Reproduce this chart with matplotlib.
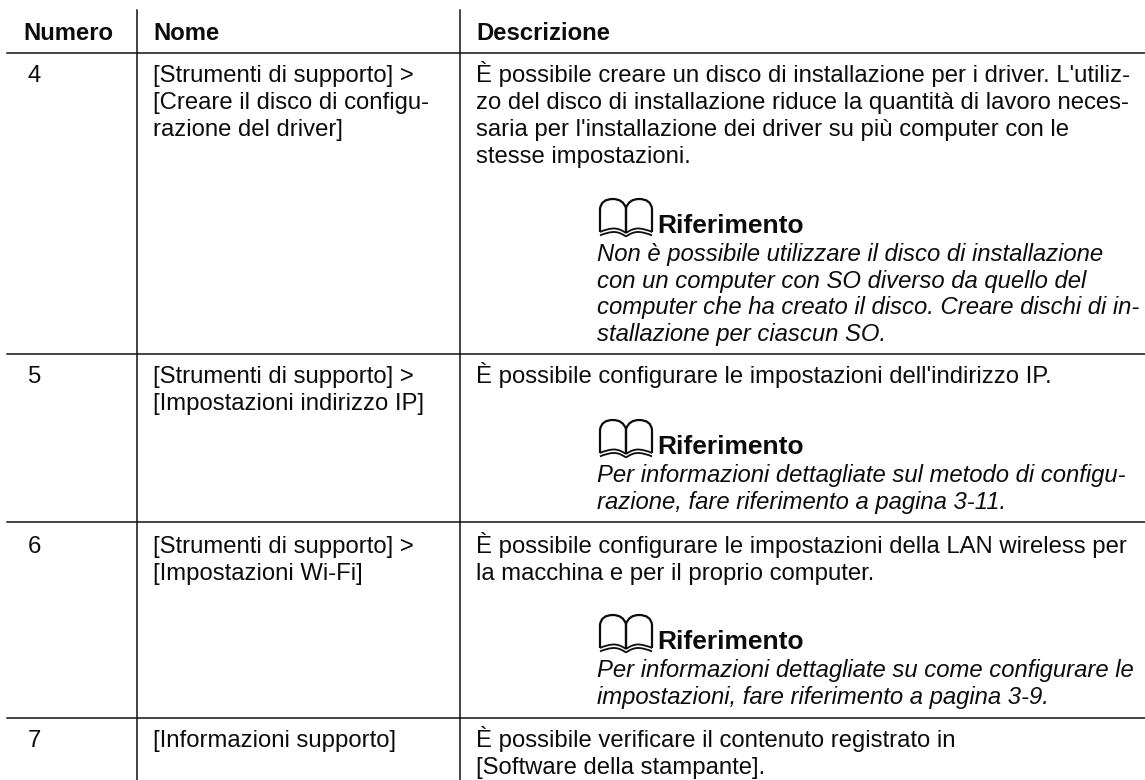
import matplotlib
matplotlib.use('Agg')
import matplotlib.pyplot as plt
from matplotlib.path import Path
from matplotlib.patches import PathPatch

plt.rcParams['font.family'] = ['Liberation Sans', 'DejaVu Sans']

headers = ['Numero', 'Nome', 'Descrizione']
numbers = ['4', '5', '6', '7']
names = [
    ['[Strumenti di supporto] >', '[Creare il disco di configu-', 'razione del driver]'],
    ['[Strumenti di supporto] >', '[Impostazioni indirizzo IP]'],
    ['[Strumenti di supporto] >', '[Impostazioni Wi-Fi]'],
    ['[Informazioni supporto]'],
]
descriptions = [
    ["È possibile creare un disco di installazione per i driver. L'utiliz-",
     'zo del disco di installazione riduce la quantità di lavoro neces-',
     "saria per l'installazione dei driver su più computer con le",
     'stesse impostazioni.'],
    ["È possibile configurare le impostazioni dell'indirizzo IP."],
    ['È possibile configurare le impostazioni della LAN wireless per',
     'la macchina e per il proprio computer.'],
    ['È possibile verificare il contenuto registrato in',
     '[Software della stampante].'],
]
note_title = 'Riferimento'
notes = [
    ['Non è possibile utilizzare il disco di installazione',
     'con un computer con SO diverso da quello del',
     'computer che ha creato il disco. Creare dischi di in-',
     'stallazione per ciascun SO.'],
    ['Per informazioni dettagliate sul metodo di configu-',
     'razione, fare riferimento a pagina 3-11.'],
    ['Per informazioni dettagliate su come configurare le',
     'impostazioni, fare riferimento a pagina 3-9.'],
    [],
]

# layout in pixels
row_tops = [53, 354, 522, 718]
note_base = [233, 454, 649]
desc_base = [82, 383, 553, 747]
line_h = 27
note_h = 26.7
fs = 17.2

fig = plt.figure(figsize=(11.45, 7.8), dpi=100)
ax = fig.add_axes([0, 0, 1, 1])
ax.set_xlim(0, 1145)
ax.set_ylim(780, 0)
ax.axis('off')


def put(x, y, s, size=fs, **kw):
    ax.text(x, y, s, fontsize=size, va='baseline', ha='left', color='#0c0c0c', **kw)


def book(x0, base):
    # icon spans 54 x 38 px, sits a little under the title baseline
    top = base - 34
    mid = x0 + 27
    for sx in (1, -1):
        page = [(mid, base), (mid, top + 9),
                (mid - sx * 3, top), (mid - sx * 13, top),
                (mid - sx * 25, top), (mid - sx * 26, top + 10),
                (mid - sx * 26, base - 1)]
        codes = [Path.MOVETO, Path.LINETO, Path.CURVE3, Path.CURVE3,
                 Path.CURVE3, Path.CURVE3, Path.LINETO]
        ax.add_patch(PathPatch(Path(page, codes), fill=False, lw=1.6, ec='#0c0c0c'))
        for dy in (0, 3.5):
            wave = [(mid, base + dy), (mid - sx * 7, base + dy - 5),
                    (mid - sx * 13, base + dy - 4.5), (mid - sx * 20, base + dy - 4),
                    (mid - sx * 26, base + dy - 1)]
            ax.add_patch(PathPatch(Path(wave, [Path.MOVETO, Path.CURVE3, Path.CURVE3,
                                               Path.CURVE3, Path.CURVE3]),
                                   fill=False, lw=1.3, ec='#0c0c0c'))


# rules
ax.plot([137, 137], [10, 780], color='#111111', lw=1.1)
ax.plot([460, 460], [10, 780], color='#111111', lw=1.1)
for y in row_tops:
    ax.plot([7, 1145], [y, y], color='#111111', lw=1.1)

# header
for x, s in zip([23, 153, 476], headers):
    put(x, 40, s, fontweight='bold')

for i, num in enumerate(numbers):
    y0 = desc_base[i]
    put(28, y0, num)
    for k, s in enumerate(names[i]):
        put(153, y0 + k * line_h, s)
    for k, s in enumerate(descriptions[i]):
        put(476, y0 + k * line_h, s)
    if notes[i]:
        book(599, note_base[i])
        put(657, note_base[i], note_title, size=19, fontweight='bold')
        for k, s in enumerate(notes[i]):
            put(597, note_base[i] + 28 + k * note_h, s, fontstyle='italic')

fig.savefig('out.png', dpi=100)
